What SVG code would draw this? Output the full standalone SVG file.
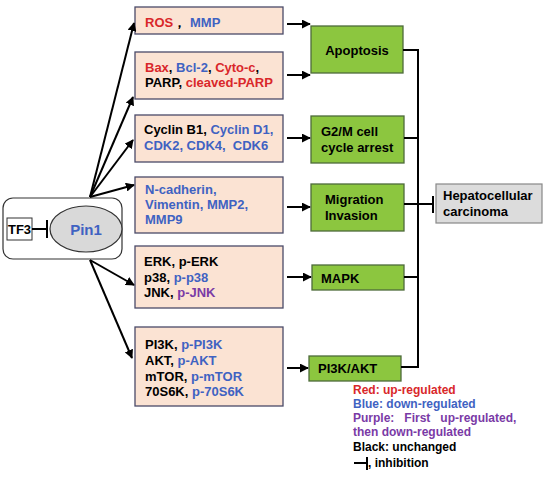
<svg xmlns="http://www.w3.org/2000/svg" width="550" height="479" viewBox="0 0 550 479">
<defs>
<marker id="ah" viewBox="0 0 10 10" refX="9" refY="5" markerWidth="4.5" markerHeight="4.5" orient="auto" markerUnits="strokeWidth">
<path d="M0,0 L10,5 L0,10 z" fill="#000"/>
</marker>
<style>
text{font-family:"Liberation Sans",Arial,sans-serif;font-weight:bold;font-size:13px;fill:#000}
.box{fill:#fbe3d3;stroke:#4a4a68;stroke-width:1.3}
.g{fill:#8cc63f;stroke:#4d6b3a;stroke-width:1.3}
.r{fill:#d9272a}
.b{fill:#3f62c2}
.p{fill:#7a3aa6}
.k{fill:#000}
.ln{stroke:#000;stroke-width:2;fill:none}
.ar{stroke:#000;stroke-width:2;fill:none;marker-end:url(#ah)}
.lg{font-size:12px}
</style>
</defs>
<rect width="550" height="479" fill="#fff"/>

<g id="pin1-group">
<rect x="3" y="198" width="119" height="61" rx="10" fill="#fff" stroke="#333" stroke-width="1.2"/>
<ellipse cx="86" cy="229" rx="36" ry="23" fill="#d9d9d9" stroke="#333" stroke-width="1.2"/>
<text x="86" y="235" text-anchor="middle" class="b" style="font-size:15px">Pin1</text>
</g>
<g id="tf3">
<rect x="7" y="218" width="25" height="22" fill="#fff" stroke="#333" stroke-width="1"/>
<text x="19.5" y="234" text-anchor="middle">TF3</text>
</g>

<g id="box-ros">
<rect class="box" x="135" y="7" width="148" height="27"/>
<text x="145" y="27"><tspan class="r">ROS</tspan>，<tspan class="b" x="190">MMP</tspan></text>
</g>
<g id="box-bax">
<rect class="box" x="135" y="52" width="148" height="47"/>
<text x="145" y="72"><tspan class="r">Bax</tspan>, <tspan class="b">Bcl-2</tspan>, <tspan class="r">Cyto-c</tspan>,</text>
<text x="145" y="87">PARP, <tspan class="r">cleaved-PARP</tspan></text>
</g>
<g id="box-cyclin">
<rect class="box" x="135" y="115" width="148" height="47"/>
<text x="144" y="134">Cyclin B1, <tspan class="b">Cyclin D1,</tspan></text>
<text x="144" y="150" class="b" xml:space="preserve">CDK2, CDK4,  CDK6</text>
</g>
<g id="box-ncad">
<rect class="box" x="135" y="177" width="148" height="56"/>
<text x="145" y="194" class="b">N-cadherin,</text>
<text x="145" y="209" class="b">Vimentin, MMP2,</text>
<text x="145" y="224" class="b">MMP9</text>
</g>
<g id="box-erk">
<rect class="box" x="135" y="246" width="148" height="62"/>
<text x="144" y="266">ERK, p-ERK</text>
<text x="144" y="282">p38, <tspan class="b">p-p38</tspan></text>
<text x="144" y="297">JNK, <tspan class="p">p-JNK</tspan></text>
</g>
<g id="box-pi3k">
<rect class="box" x="135" y="327" width="148" height="79"/>
<text x="145" y="349">PI3K, <tspan class="b">p-PI3K</tspan></text>
<text x="145" y="365">AKT, <tspan class="b">p-AKT</tspan></text>
<text x="145" y="381">mTOR, <tspan class="b">p-mTOR</tspan></text>
<text x="145" y="396">70S6K, <tspan class="b">p-70S6K</tspan></text>
</g>

<g id="apoptosis">
<rect class="g" x="311" y="26" width="92" height="47"/>
<text x="357" y="55" text-anchor="middle">Apoptosis</text>
</g>
<g id="g2m">
<rect class="g" x="311" y="116" width="93" height="47"/>
<text x="321" y="136">G2/M cell</text>
<text x="321" y="152">cycle arrest</text>
</g>
<g id="migration">
<rect class="g" x="311" y="184" width="93" height="47"/>
<text x="325" y="204">Migration</text>
<text x="325" y="220">Invasion</text>
</g>
<g id="mapk">
<rect class="g" x="312" y="265" width="92" height="25"/>
<text x="321" y="283">MAPK</text>
</g>
<g id="pi3kakt">
<rect class="g" x="309" y="356" width="92" height="25"/>
<text x="318" y="373">PI3K/AKT</text>
</g>
<g id="hcc">
<rect x="436" y="184" width="106" height="39" fill="#dcdcdc" stroke="#888" stroke-width="1.2"/>
<text x="443" y="200">Hepatocellular</text>
<text x="443" y="216">carcinoma</text>
</g>

<g id="connectors">
<line class="ar" x1="90" y1="197" x2="134" y2="23"/>
<line class="ar" x1="90" y1="197" x2="133" y2="97"/>
<line class="ar" x1="90" y1="197" x2="133" y2="140"/>
<line class="ar" x1="90" y1="197" x2="134" y2="185"/>
<line class="ar" x1="90" y1="260" x2="134" y2="285"/>
<line class="ar" x1="90" y1="260" x2="132" y2="358"/>
<line class="ar" x1="287" y1="24" x2="310" y2="24"/>
<line class="ar" x1="287" y1="75" x2="310" y2="75"/>
<line class="ar" x1="287" y1="138" x2="310" y2="138"/>
<line class="ar" x1="287" y1="207" x2="310" y2="207"/>
<line class="ar" x1="287" y1="277" x2="311" y2="277"/>
<line class="ar" x1="287" y1="368" x2="308" y2="368"/>
<polyline class="ln" points="403,50 418,50 418,367 401,367"/>
<line class="ln" x1="404" y1="138" x2="418" y2="138"/>
<line class="ln" x1="404" y1="204" x2="433" y2="204"/>
<line class="ln" x1="433" y1="196" x2="433" y2="213"/>
<line class="ln" x1="404" y1="277" x2="418" y2="277"/>
<line class="ln" x1="32" y1="229" x2="47" y2="229"/>
<line class="ln" x1="47" y1="220" x2="47" y2="238"/>
</g>

<g id="legend">
<text class="lg r" x="353" y="394">Red: up-regulated</text>
<text class="lg b" x="353" y="408">Blue: down-regulated</text>
<text class="lg p" x="353" y="422" xml:space="preserve">Purple:   First   up-regulated,</text>
<text class="lg p" x="353" y="436">then down-regulated</text>
<text class="lg" x="353" y="451">Black: unchanged</text>
<line class="ln" x1="354" y1="463" x2="367" y2="463"/>
<line class="ln" x1="367" y1="457" x2="367" y2="470"/>
<text class="lg" x="368" y="467">, inhibition</text>
</g>
</svg>
